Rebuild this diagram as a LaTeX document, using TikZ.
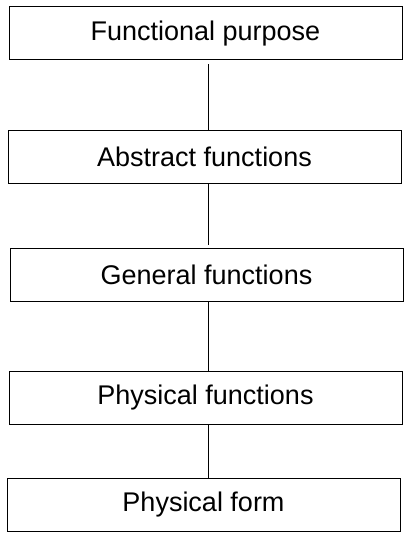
\documentclass[tikz,border=0pt]{standalone}
\usepackage{fontspec}
\setmainfont{Liberation Sans}
\usetikzlibrary{positioning}

\begin{document}
\begin{tikzpicture}[x=1pt, y=-1pt,
    level/.style={draw, line width=1pt, minimum width=393pt, minimum height=53pt,
      inner sep=0pt, font=\fontsize{27}{31}\selectfont},
    link/.style={line width=1pt}]
  \useasboundingbox (0,0) rectangle (411,540);

  \node[level] (fp) at (205.5,33.5) {Functional purpose};
  \node[level] (af) at (204.5,157) {Abstract functions};
  \node[level] (gf) at (206.5,274.5) {General functions};
  \node[level] (pf) at (205.5,397.5) {Physical functions};
  \node[level] (fo) at (203.5,505) {Physical form};
  \coordinate (spine) at (208,0);

  % Liens entre les niveaux
  \draw[link] ([yshift=-4pt]fp.south -| spine) -- (af.north -| spine);
  \draw[link] (af.south -| spine) -- ([yshift=3pt]gf.north -| spine);
  \draw[link] (gf.south -| spine) -- (pf.north -| spine);
  \draw[link] (pf.south -| spine) -- (fo.north -| spine);

\end{tikzpicture}
\end{document}
